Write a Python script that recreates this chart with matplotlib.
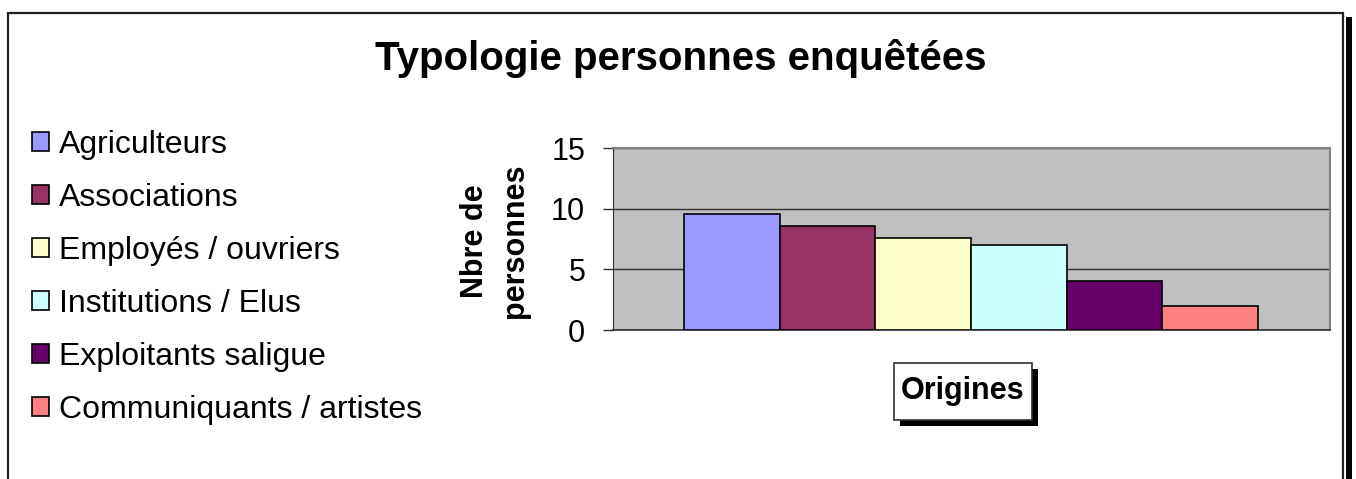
import numpy as np
import matplotlib
matplotlib.use("Agg")
import matplotlib.pyplot as plt
from matplotlib.patches import Rectangle

plt.rcParams["font.family"] = ["Liberation Sans", "DejaVu Sans"]

# Data
categories = [
    "Agriculteurs",
    "Associations",
    "Employés / ouvriers",
    "Institutions / Elus",
    "Exploitants saligue",
    "Communiquants / artistes",
]
values = [9.6, 8.6, 7.6, 7, 4, 2]
colors = ["#9999FF", "#993366", "#FFFFCC", "#CCFFFF", "#660066", "#FF8080"]
y_ticks = [0, 5, 10, 15]

title = "Typologie personnes enquêtées"
y_label = "Nbre de\npersonnes"
x_label = "Origines"


def main():
    W, H = 1356, 479
    fig = plt.figure(figsize=(W / 100, H / 100), dpi=100)

    # Outer chart frame with black shadow on the right
    fig.patches.append(Rectangle((1346 / W, -0.05), 6 / W, 1 - 17 / H + 0.05,
                                 transform=fig.transFigure, facecolor="black",
                                 edgecolor="none", zorder=0))
    fig.patches.append(Rectangle((8 / W, -0.05), (1343 - 8) / W, 1 - 13 / H + 0.05,
                                 transform=fig.transFigure, facecolor="white",
                                 edgecolor="#202020", linewidth=1.6, zorder=1))

    ax = fig.add_axes([613 / W, 1 - 330 / H, (1330 - 613) / W, (330 - 148) / H])
    ax.set_zorder(3)
    ax.set_facecolor("#C0C0C0")
    ax.set_axisbelow(True)

    x = np.arange(len(values))
    bars = ax.bar(x, values, width=1.0, color=colors, edgecolor="black",
                  linewidth=1.2, zorder=3)

    ax.set_xlim(-1.24, 6.25)
    ax.set_ylim(0, 15)
    ax.set_yticks(y_ticks)
    ax.set_xticks([])
    ax.tick_params(axis="y", labelsize=22, length=7, width=1, pad=13,
                   direction="out", color="#303030")
    ax.yaxis.grid(True, color="#303030", linewidth=1.0)

    ax.spines["left"].set_color("#303030")
    ax.spines["bottom"].set_color("#303030")
    ax.spines["bottom"].set_linewidth(1.2)
    ax.spines["top"].set_color("#808080")
    ax.spines["right"].set_color("#808080")
    ax.spines["top"].set_linewidth(1.5)
    ax.spines["right"].set_linewidth(1.5)

    # Y label (two lines, bold)
    fig.text(495 / W, 1 - 241 / H, y_label, rotation=90, ha="center",
             va="center", fontsize=22, fontweight="bold", linespacing=1.45,
             multialignment="center", zorder=4)

    # Title
    fig.text(681 / W, 1 - 58 / H, title, ha="center", va="center",
             fontsize=29, fontweight="bold", zorder=4)

    # X label in a box with a drop shadow
    box_l, box_r, box_t, box_b = 894, 1032, 363, 420
    fig.patches.append(Rectangle(((box_l + 6) / W, 1 - (box_b + 6) / H),
                                 (box_r - box_l) / W, (box_b - box_t) / H,
                                 transform=fig.transFigure, facecolor="black",
                                 edgecolor="none", zorder=2))
    fig.patches.append(Rectangle((box_l / W, 1 - box_b / H),
                                 (box_r - box_l) / W, (box_b - box_t) / H,
                                 transform=fig.transFigure, facecolor="white",
                                 edgecolor="#303030", linewidth=1.2, zorder=2))
    fig.text((box_l + box_r) / 2 / W, 1 - (box_t + box_b) / 2 / H, x_label,
             ha="center", va="center", fontsize=22, fontweight="bold",
             zorder=4)

    # Legend on the left
    leg = fig.legend(handles=list(bars), labels=categories, loc="upper left",
                     bbox_to_anchor=(19 / W, 1 - 117 / H), frameon=False,
                     fontsize=23, handlelength=0.53, handleheight=0.53,
                     handletextpad=0.33, labelspacing=0.72, borderaxespad=0)
    leg.set_zorder(4)

    fig.savefig("out.png", dpi=100)
    plt.close(fig)


if __name__ == "__main__":
    main()
